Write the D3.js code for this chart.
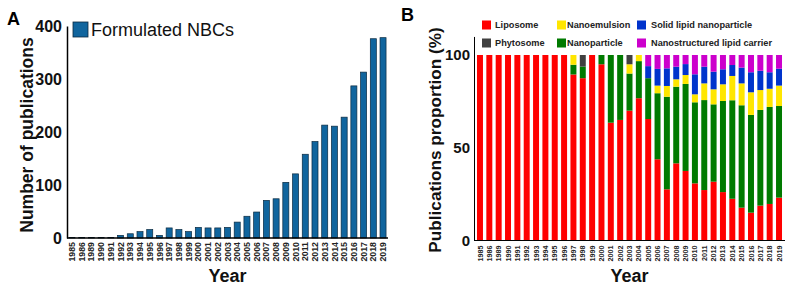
<!DOCTYPE html>
<html>
<head>
<meta charset="utf-8">
<script src="https://cdn.jsdelivr.net/npm/d3@7"></script>
<style>
  html, body { margin: 0; padding: 0; background: #fff; }
  svg { display: block; font-family: "Liberation Sans", Arial, sans-serif; }
</style>
</head>
<body>
<svg id="chart" width="789" height="286"></svg>
<script>
// ---------- DATA ----------
const years = ["1985","1986","1989","1990","1991","1992","1993","1994","1995","1996",
  "1997","1998","1999","2000","2001","2002","2003","2004","2005","2006","2007","2008",
  "2009","2010","2011","2012","2013","2014","2015","2016","2017","2018","2019"];

// Panel A: number of publications (Formulated NBCs)
const publications = [1,1,1,1,1,5,8,12,16,5,19,16,12,20,19,19,20,30,41,49,71,74,
  105,121,158,182,213,211,228,287,313,376,378];
const countTicks = [0,100,200,300,400];

// Panel B: proportion (%) per formulation type
const liposome = [100,100,100,100,100,100,100,100,100,100,89.5,87.5,100,95,63.5,65,70,76.7,65.5,
  43.8,27.6,41.6,37.5,30.8,27.2,31.7,26.1,22.5,17.7,15,18.8,19.7,23.1];
const nanoparticle = [0,0,0,0,0,0,0,0,0,0,5.25,6.25,0,5,36.5,35,20,20,22,
  35.6,49.9,41.3,46.9,43.7,48.5,41.7,49.1,53.1,55.2,52.7,51.6,52.3,49.4];
const nanoemulsion = [0,0,0,0,0,0,0,0,0,0,5.25,0,0,0,0,0,5,3.3,0,
  4.1,5.8,4,4.8,4.3,9,8.1,9,13.1,11.8,12.2,10.7,9.8,11];
const solidLipid = [0,0,0,0,0,0,0,0,0,0,0,0,0,0,0,0,0,0,6.5,
  9,9.5,6.8,5.9,10.8,9,9.5,8.1,5.9,8.5,10.8,10.4,8.9,9.1];
const nlc = [0,0,0,0,0,0,0,0,0,0,0,0,0,0,0,0,0,0,6,
  7.5,7.2,6.3,4.9,10.4,6.3,9,7.7,5.4,6.8,9.3,8.5,9.3,7.4];
const phytosome = [0,0,0,0,0,0,0,0,0,0,0,6.25,0,0,0,0,5,0,0,
  0,0,0,0,0,0,0,0,0,0,0,0,0,0];
const propTicks = [0,50,100];

const seriesNames = ["Liposome","Nanoparticle","Nanoemulsion","Solid lipid nanoparticle","Nanostructured lipid carrier","Phytosome"];
const seriesValues = [liposome, nanoparticle, nanoemulsion, solidLipid, nlc, phytosome];
const seriesColors = ["#ff0000","#007a00","#ffe600","#0033cc","#cc00cc","#404040"];
const legendOrder = ["Liposome","Nanoemulsion","Solid lipid nanoparticle","Phytosome","Nanoparticle","Nanostructured lipid carrier"];

// ---------- DRAW ----------
const svg = d3.select("#chart");

// ===== Panel A =====
const A = {left: 67, right: 388, top: 26, bottom: 238};
const xA = d3.scaleBand().domain(years).range([A.left, A.right]).paddingInner(0.38).paddingOuter(0.2);
const yA = d3.scaleLinear().domain([0, 400]).range([A.bottom, A.top]);

svg.append("text").attr("x", 7).attr("y", 25).attr("font-size", 18).attr("font-weight", "bold").text("A");

svg.append("g").selectAll("rect").data(years).join("rect")
  .attr("x", d => xA(d)).attr("width", xA.bandwidth())
  .attr("y", (d, i) => yA(publications[i]))
  .attr("height", (d, i) => A.bottom - yA(publications[i]))
  .attr("fill", "#10659e").attr("stroke", "#0b2a40").attr("stroke-width", 0.7);

const yAxisA = svg.append("g").attr("transform", `translate(${A.left},0)`)
  .call(d3.axisLeft(yA).tickValues(countTicks).tickSize(0).tickPadding(5));
yAxisA.select(".domain").attr("stroke", "#000").attr("stroke-width", 1.5);
yAxisA.selectAll("text").attr("font-size", 16).attr("font-weight", "bold").attr("fill", "#111")
  .attr("font-family", "Liberation Sans, Arial, sans-serif");

svg.append("line").attr("x1", A.left).attr("x2", A.right).attr("y1", A.bottom).attr("y2", A.bottom)
  .attr("stroke", "#000").attr("stroke-width", 1.5);

svg.append("g").selectAll("text").data(years).join("text")
  .attr("transform", d => `translate(${xA(d) + xA.bandwidth() / 2},${A.bottom + 4}) rotate(-90)`)
  .attr("text-anchor", "end").attr("dy", "0.35em")
  .attr("font-size", 8.8).attr("font-weight", "bold").attr("fill", "#222").text(d => d);

svg.append("text").attr("x", (A.left + A.right) / 2).attr("y", 282).attr("text-anchor", "middle")
  .attr("font-size", 18).attr("font-weight", "bold").attr("fill", "#111").text("Year");

svg.append("text").attr("transform", `translate(33,135) rotate(-90)`)
  .attr("text-anchor", "middle").attr("font-size", 17.5).attr("font-weight", "bold").attr("fill", "#111")
  .text("Number of publications");

// legend A
svg.append("rect").attr("x", 73).attr("y", 22).attr("width", 15).attr("height", 15)
  .attr("fill", "#10659e").attr("stroke", "#0b2a40").attr("stroke-width", 0.8);
svg.append("text").attr("x", 91).attr("y", 36).attr("font-size", 18).attr("fill", "#111").text("Formulated NBCs");

// ===== Panel B =====
const B = {left: 474, right: 785, top: 37, bottom: 240.5};
const xB = d3.scaleBand().domain(years).range([B.left, B.right]).paddingInner(0.36).paddingOuter(0.32);
const yB = d3.scaleLinear().domain([0, 110]).range([B.bottom, B.bottom - 110 * 1.855]);

svg.append("text").attr("x", 401).attr("y", 21).attr("font-size", 18).attr("font-weight", "bold").text("B");

const table = years.map((y, i) => {
  const o = {year: y};
  seriesNames.forEach((n, k) => o[n] = seriesValues[k][i]);
  return o;
});
const stacked = d3.stack().keys(seriesNames)(table);

svg.append("g").selectAll("g").data(stacked).join("g")
  .attr("fill", (d, k) => seriesColors[k])
  .selectAll("rect").data(d => d).join("rect")
  .attr("x", d => xB(d.data.year)).attr("width", xB.bandwidth())
  .attr("y", d => yB(d[1])).attr("height", d => Math.max(0, yB(d[0]) - yB(d[1])));

const yAxisB = svg.append("g").attr("transform", `translate(${B.left},0)`)
  .call(d3.axisLeft(yB).tickValues(propTicks).tickSize(0).tickPadding(4));
yAxisB.select(".domain").attr("stroke", "#000").attr("stroke-width", 1);
yAxisB.selectAll("text").attr("font-size", 15).attr("font-weight", "bold").attr("fill", "#111")
  .attr("font-family", "Liberation Sans, Arial, sans-serif");

svg.append("line").attr("x1", B.left).attr("x2", B.right).attr("y1", B.bottom).attr("y2", B.bottom)
  .attr("stroke", "#000").attr("stroke-width", 1);

svg.append("g").selectAll("text").data(years).join("text")
  .attr("transform", d => `translate(${xB(d) + xB.bandwidth() / 2},${B.bottom + 5}) rotate(-90)`)
  .attr("text-anchor", "end").attr("dy", "0.35em")
  .attr("font-size", 7.2).attr("font-weight", "bold").attr("fill", "#222").text(d => d);

svg.append("text").attr("x", (B.left + B.right) / 2).attr("y", 282).attr("text-anchor", "middle")
  .attr("font-size", 18).attr("font-weight", "bold").attr("fill", "#111").text("Year");

svg.append("text").attr("transform", `translate(441,140) rotate(-90)`)
  .attr("text-anchor", "middle").attr("font-size", 17.2).attr("font-weight", "bold").attr("fill", "#111")
  .text("Publications proportion (%)");

// legend B
const colX = [482, 557, 637];
const textX = [495, 567, 651];
const rowY = [25, 43];
legendOrder.forEach((name, i) => {
  const col = i % 3, row = Math.floor(i / 3);
  const k = seriesNames.indexOf(name);
  svg.append("rect").attr("x", colX[col]).attr("y", rowY[row] - 4.5).attr("width", 9).attr("height", 9)
    .attr("fill", seriesColors[k]);
  svg.append("text").attr("x", textX[col]).attr("y", rowY[row] + 3.3)
    .attr("font-size", 9.2).attr("font-weight", "bold").attr("fill", "#222").text(name);
});
</script>
</body>
</html>
